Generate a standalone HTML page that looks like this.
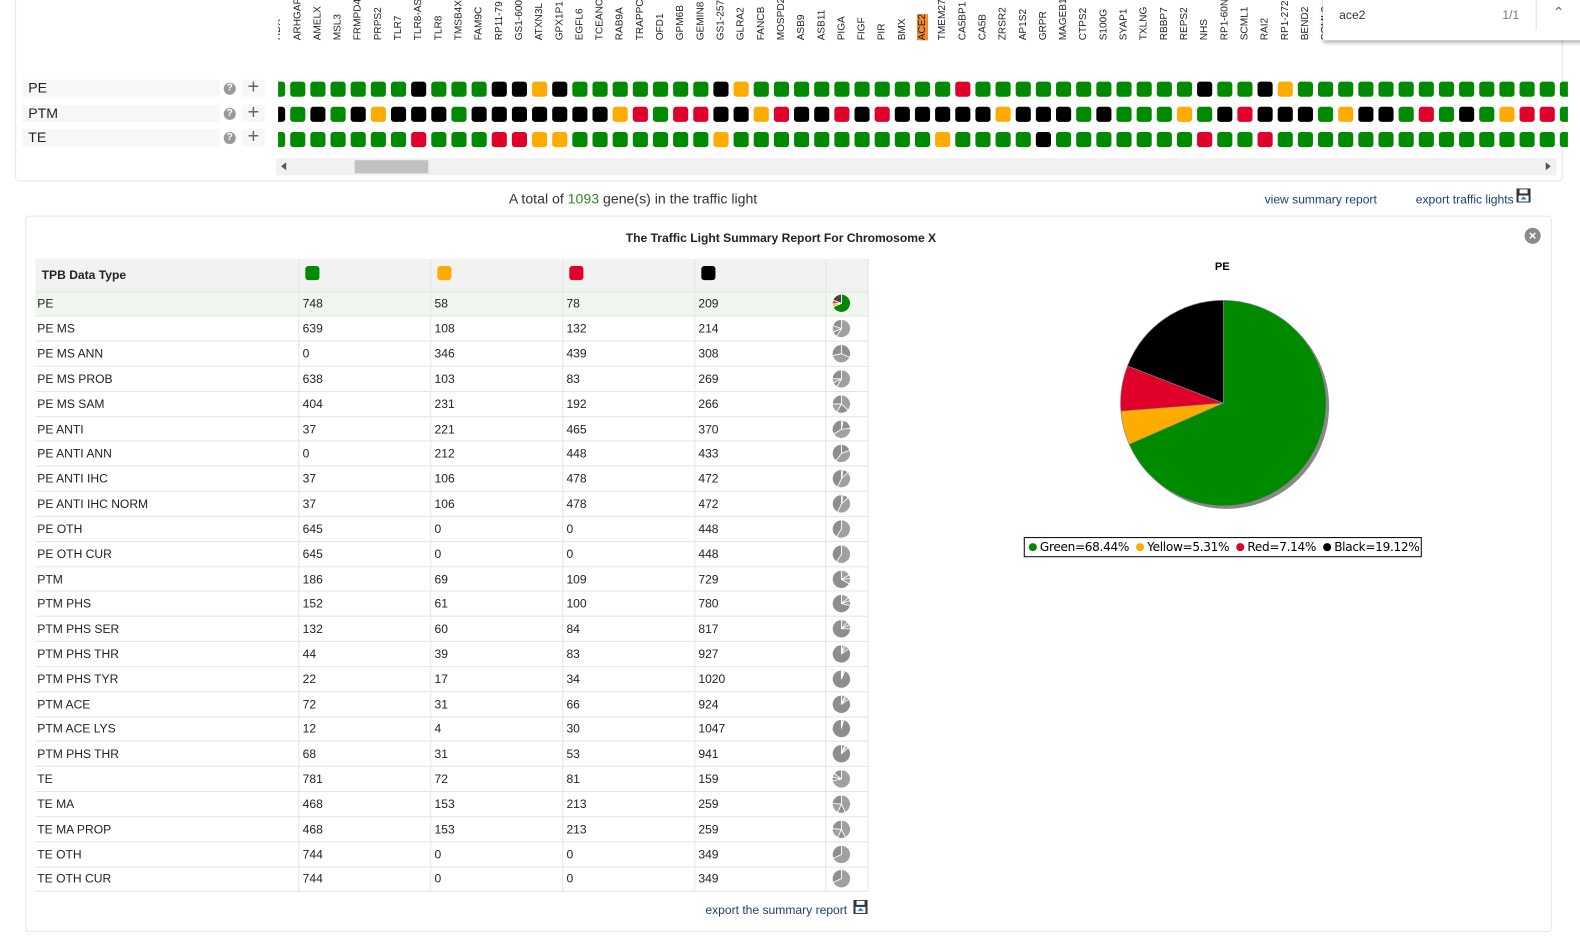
<!DOCTYPE html>
<html><head><meta charset="utf-8">
<style>
*{box-sizing:border-box;margin:0;padding:0}
body{width:1580px;height:936px;background:#fff;font-family:"Liberation Sans",sans-serif;position:relative;overflow:hidden;color:#222}
#wrap{position:absolute;left:0;top:0;width:1568px;height:929px;transform:scale(1.00765);transform-origin:0 0}
.abs{position:absolute}
#toppanel{left:15px;top:-10px;width:1536px;height:190px;border:1px solid #e6e6e6;border-radius:4px}
.rowlab{left:22px;width:196px;height:17px;background:#f7f7f7;font-size:14px;line-height:17px;padding-left:6px}
.qicon{width:12px;height:12px;border-radius:50%;background:#9a9a9a;color:#fff;font-size:10px;font-weight:bold;line-height:12px;text-align:center}
.plusband{left:240px;width:23px;height:17px;background:#f7f7f7;font-size:20px;line-height:16px;text-align:center;color:#666}
#lights{left:276px;top:0;width:1280px;height:150px;overflow:hidden}
.gl{position:absolute;font-size:10px;white-space:nowrap;transform-origin:0 0;transform:rotate(-90deg)}
.sq{position:absolute;width:15px;height:15px;border-radius:3px}
#search{left:1313px;top:-2px;width:267px;height:42px;background:#fff;box-shadow:0 2px 4px rgba(0,0,0,.35)}
table{border-collapse:collapse;font-size:12px}
td{height:24.83px;border-bottom:1px solid #e4e4e4;border-right:1px solid #e4e4e4;padding-left:3px}
.hdr td{background:#f2f2f2;height:32px;font-weight:bold}
.mini{width:18px;height:18px;display:block;margin:0 0 0 3px}
a{color:#1a3f7a;text-decoration:none}
</style></head><body>
<div id="wrap">
<div id="toppanel" class="abs"></div>

<div class="abs rowlab" style="top:79px">PE</div>
<div class="abs rowlab" style="top:104px">PTM</div>
<div class="abs rowlab" style="top:128px">TE</div>
<div class="abs qicon" style="left:222px;top:82px">?</div>
<div class="abs qicon" style="left:222px;top:107px">?</div>
<div class="abs qicon" style="left:222px;top:131px">?</div>
<div class="abs plusband" style="top:79px">+</div>
<div class="abs plusband" style="top:104px">+</div>
<div class="abs plusband" style="top:128px">+</div>

<div id="lights" class="abs"></div>

<div class="abs" style="left:274px;top:157px;width:1271px;height:17px;background:#f1f1f1">
 <div class="abs" style="left:5px;top:4px;width:0;height:0;border-top:4px solid transparent;border-bottom:4px solid transparent;border-right:5px solid #555"></div>
 <div class="abs" style="left:78px;top:2px;width:73px;height:13px;background:#c1c1c1"></div>
 <div class="abs" style="right:6px;top:4px;width:0;height:0;border-top:4px solid transparent;border-bottom:4px solid transparent;border-left:5px solid #555"></div>
</div>

<div id="search" class="abs">
 <div class="abs" style="left:16px;top:10px;font-size:12px;color:#333">ace2</div>
 <div class="abs" style="left:178px;top:10px;font-size:12px;color:#777">1/1</div>
 <div class="abs" style="left:211px;top:0;width:1px;height:32px;background:#ddd"></div>
 <div class="abs" style="left:228px;top:6px;font-size:14px;color:#666">&#8963;</div>
</div>

<div class="abs" style="left:505px;top:189px;font-size:14px;color:#333">A total of <span style="color:#2a8a2a">1093</span> gene(s) in the traffic light</div>
<a class="abs" style="left:1255px;top:191px;font-size:12px">view summary report</a>
<a class="abs" style="left:1405px;top:191px;font-size:12px">export traffic lights</a>
<svg class="abs" style="left:1505px;top:187px" width="14" height="14"><rect x="0" y="0" width="14" height="14" fill="#333"/><rect x="3" y="1" width="8" height="4" fill="#fff"/><rect x="2" y="7" width="10" height="6" fill="#fff"/><path d="M7 8 L10 11 H4Z" fill="#1a6fd0"/></svg>

<div class="abs" style="left:25px;top:214px;width:1515px;height:711px;border:1px solid #e6e6e6;border-radius:4px"></div>
<div class="abs" style="left:0;width:1550px;top:229px;text-align:center;font-size:12px;font-weight:bold">The Traffic Light Summary Report For Chromosome X</div>
<div class="abs" style="left:1513px;top:226px;width:16px;height:16px;border-radius:50%;background:#8a8a8a;color:#fff;font-size:13px;font-weight:bold;line-height:16px;text-align:center">×</div>

<table class="abs" style="left:35px;top:257px;width:827px" id="tbl">
<colgroup><col style="width:262px"><col style="width:131px"><col style="width:131px"><col style="width:131px"><col style="width:130px"><col style="width:42px"></colgroup>
<tr class="hdr">
<td>&nbsp;TPB Data Type</td>
<td><span style="display:inline-block;width:14px;height:14px;background:#008a00;border-radius:3px;margin-left:3px"></span></td>
<td><span style="display:inline-block;width:14px;height:14px;background:#ffab00;border-radius:3px;margin-left:3px"></span></td>
<td><span style="display:inline-block;width:14px;height:14px;background:#e0002a;border-radius:3px;margin-left:3px"></span></td>
<td><span style="display:inline-block;width:14px;height:14px;background:#000;border-radius:3px;margin-left:3px"></span></td>
<td></td></tr>
</table>

<a class="abs" style="left:700px;top:896px;font-size:12px">export the summary report</a>
<svg class="abs" style="left:847px;top:893px" width="14" height="14"><rect x="0" y="0" width="14" height="14" fill="#333"/><rect x="3" y="1" width="8" height="4" fill="#fff"/><rect x="2" y="7" width="10" height="6" fill="#fff"/><path d="M7 8 L10 11 H4Z" fill="#1a6fd0"/></svg>

<svg id="pie" class="abs" style="left:1000px;top:250px" width="430" height="320"></svg>
</div>
<script>
// ---- traffic light data ----
const genes=["HDX","ARHGAP","AMELX","MSL3","FRMPD4","PRPS2","TLR7","TLR8-AS","TLR8","TMSB4X","FAM9C","RP11-79","GS1-600","ATXN3L","GPX1P1","EGFL6","TCEANC","RAB9A","TRAPPC","OFD1","GPM6B","GEMIN8","GS1-257","GLRA2","FANCB","MOSPD2","ASB9","ASB11","PIGA","FIGF","PIR","BMX","ACE2","TMEM27","CA5BP1","CA5B","ZRSR2","AP1S2","GRPR","MAGEB1","CTPS2","S100G","SYAP1","TXLNG","RBBP7","REPS2","NHS","RP1-60N","SCML1","RAI2","RP1-272","BEND2","SCML2","G53","G54","G55","G56","G57","G58","G59","G60","G61","G62","G63","G64"];
const lightRows=["PE","PTM","TE"];
const pePattern ="GGGGGGGKGGGKKYKGGGGGGGKYGGGGGGGGGGRGGGGGGGGGGGKGGKYGGGGGGGGGGGGG";
const ptmPattern="KGKGKYKKKGKKKKKKKYRGRRKKYRKKRKRKKKKKYKKKGKGGGYGKRKKKGYKKGRGKGYRRG";
const tePattern ="GGGGGGGRGGGRRYYGGGGGGGYGGGGGGGGGGYGGGGKGGGGGGGRGGRGGGGGGGGGGGGGG";
const colorMap={G:"#008a00",Y:"#ffab00",R:"#e0002a",K:"#000"};
const patterns=[pePattern,ptmPattern,tePattern];
const rowTops=[81,106,131];
const L=document.getElementById('lights');
const colX=i=>268+20*i-276;
genes.forEach((g,i)=>{
  const lab=document.createElement('div');
  lab.className='gl';
  lab.textContent=g;
  lab.style.left=(colX(i)+2)+'px';
  lab.style.top='40px';
  if(g==='ACE2'){lab.style.background='#f28a2e';}
  
  
  L.appendChild(lab);
  patterns.forEach((p,r)=>{
    const s=document.createElement('div');
    s.className='sq';
    s.style.left=colX(i)+'px';
    s.style.top=rowTops[r]+'px';
    s.style.background=colorMap[p[i]]||'#008a00';
    
    
    L.appendChild(s);
  });
});

// ---- summary table data ----
const types=["PE","PE MS","PE MS ANN","PE MS PROB","PE MS SAM","PE ANTI","PE ANTI ANN","PE ANTI IHC","PE ANTI IHC NORM","PE OTH","PE OTH CUR","PTM","PTM PHS","PTM PHS SER","PTM PHS THR","PTM PHS TYR","PTM ACE","PTM ACE LYS","PTM PHS THR","TE","TE MA","TE MA PROP","TE OTH","TE OTH CUR"];
const greenVals=[748,639,0,638,404,37,0,37,37,645,645,186,152,132,44,22,72,12,68,781,468,468,744,744];
const yellowVals=[58,108,346,103,231,221,212,106,106,0,0,69,61,60,39,17,31,4,31,72,153,153,0,0];
const redVals=[78,132,439,83,192,465,448,478,478,0,0,109,100,84,83,34,66,30,53,81,213,213,0,0];
const blackVals=[209,214,308,269,266,370,433,472,472,448,448,729,780,817,927,1020,924,1047,941,159,259,259,349,349];
const pieColors=["#008a00","#ffab00","#e0002a","#000"];

function arcPath(cx,cy,r,a0,a1){
  const x0=cx+r*Math.sin(a0),y0=cy-r*Math.cos(a0),x1=cx+r*Math.sin(a1),y1=cy-r*Math.cos(a1);
  return `M${cx},${cy}L${x0},${y0}A${r},${r} 0 ${a1-a0>Math.PI?1:0} 1 ${x1},${y1}Z`;
}
function slices(vals){const t=vals.reduce((a,b)=>a+b,0);let a=0;return vals.map(v=>{const s=a;a+=v/t*2*Math.PI;return [s,a,v/t];});}

const tbl=document.getElementById('tbl');
types.forEach((t,i)=>{
  const tr=document.createElement('tr');
  
  
  if(i===0) tr.style.background='#eff7ef';
  [t,greenVals[i],yellowVals[i],redVals[i],blackVals[i]].forEach((v,j)=>{
    const td=document.createElement('td');td.textContent=v;
    if(j===0) td.style.paddingLeft='2px';
    tr.appendChild(td);
  });
  const td=document.createElement('td');
  const vals=[greenVals[i],yellowVals[i],redVals[i],blackVals[i]];
  let svg='<svg class="mini" viewBox="0 0 18 18">';
  slices(vals).forEach((s,k)=>{if(s[2]>0){const c=i===0?(k===2?'#e04a3a':k===3?'#444':pieColors[k]):(k%2?'#8e8e8e':'#a0a0a0');svg+=`<path d="${s[2]>=0.9999?'M9,0A9,9 0 1 1 8.99,0Z':arcPath(9,9,9,s[0],s[1])}" fill="${c}" stroke="#fff" stroke-width="0.8"/>`;}});
  svg+='</svg>';
  td.innerHTML=svg;
  
  
  tr.appendChild(td);
  tbl.appendChild(tr);
});

// ---- main pie (PE) ----
const pieLabels=["Green","Yellow","Red","Black"];
const pieValues=[greenVals[0],yellowVals[0],redVals[0],blackVals[0]];
const P=document.getElementById('pie');
const NS='http://www.w3.org/2000/svg';
const cx=214,cy=150,r=102;
let title=document.createElementNS(NS,'text');
title.setAttribute('x',213);title.setAttribute('y',18);title.setAttribute('text-anchor','middle');
title.setAttribute('font-size','11');title.setAttribute('font-weight','bold');title.textContent='PE';


P.appendChild(title);
let sh=document.createElementNS(NS,'circle');
sh.setAttribute('cx',cx+3);sh.setAttribute('cy',cy+3);sh.setAttribute('r',r);sh.setAttribute('fill','#888');


P.appendChild(sh);
slices(pieValues).forEach((s,k)=>{
  const p=document.createElementNS(NS,'path');
  p.setAttribute('d',arcPath(cx,cy,r,s[0],s[1]));
  p.setAttribute('fill',pieColors[k]);p.setAttribute('stroke','#888');p.setAttribute('stroke-width','0.6');
  
  
  P.appendChild(p);
});
// legend
const tot=pieValues.reduce((a,b)=>a+b,0);
const lg=document.createElementNS(NS,'rect');
lg.setAttribute('x',16.5);lg.setAttribute('y',283.5);lg.setAttribute('width',394);lg.setAttribute('height',19);
lg.setAttribute('fill','#fff');lg.setAttribute('stroke','#000');


P.appendChild(lg);
let lx=25;
pieLabels.forEach((n,k)=>{
  const c=document.createElementNS(NS,'circle');
  c.setAttribute('cx',lx);c.setAttribute('cy',293);c.setAttribute('r',4);c.setAttribute('fill',pieColors[k]);
  
  
  P.appendChild(c);
  const t=document.createElementNS(NS,'text');
  t.setAttribute('x',lx+7);t.setAttribute('y',297);t.setAttribute('font-size','12');
  t.setAttribute('font-family','DejaVu Sans, sans-serif');t.setAttribute('letter-spacing','-0.3');
  t.textContent=n+'='+(pieValues[k]/tot*100).toFixed(2)+'%';
  
  
  P.appendChild(t);
  lx+=12+t.getComputedTextLength()+6;
});
</script>
</body></html>
